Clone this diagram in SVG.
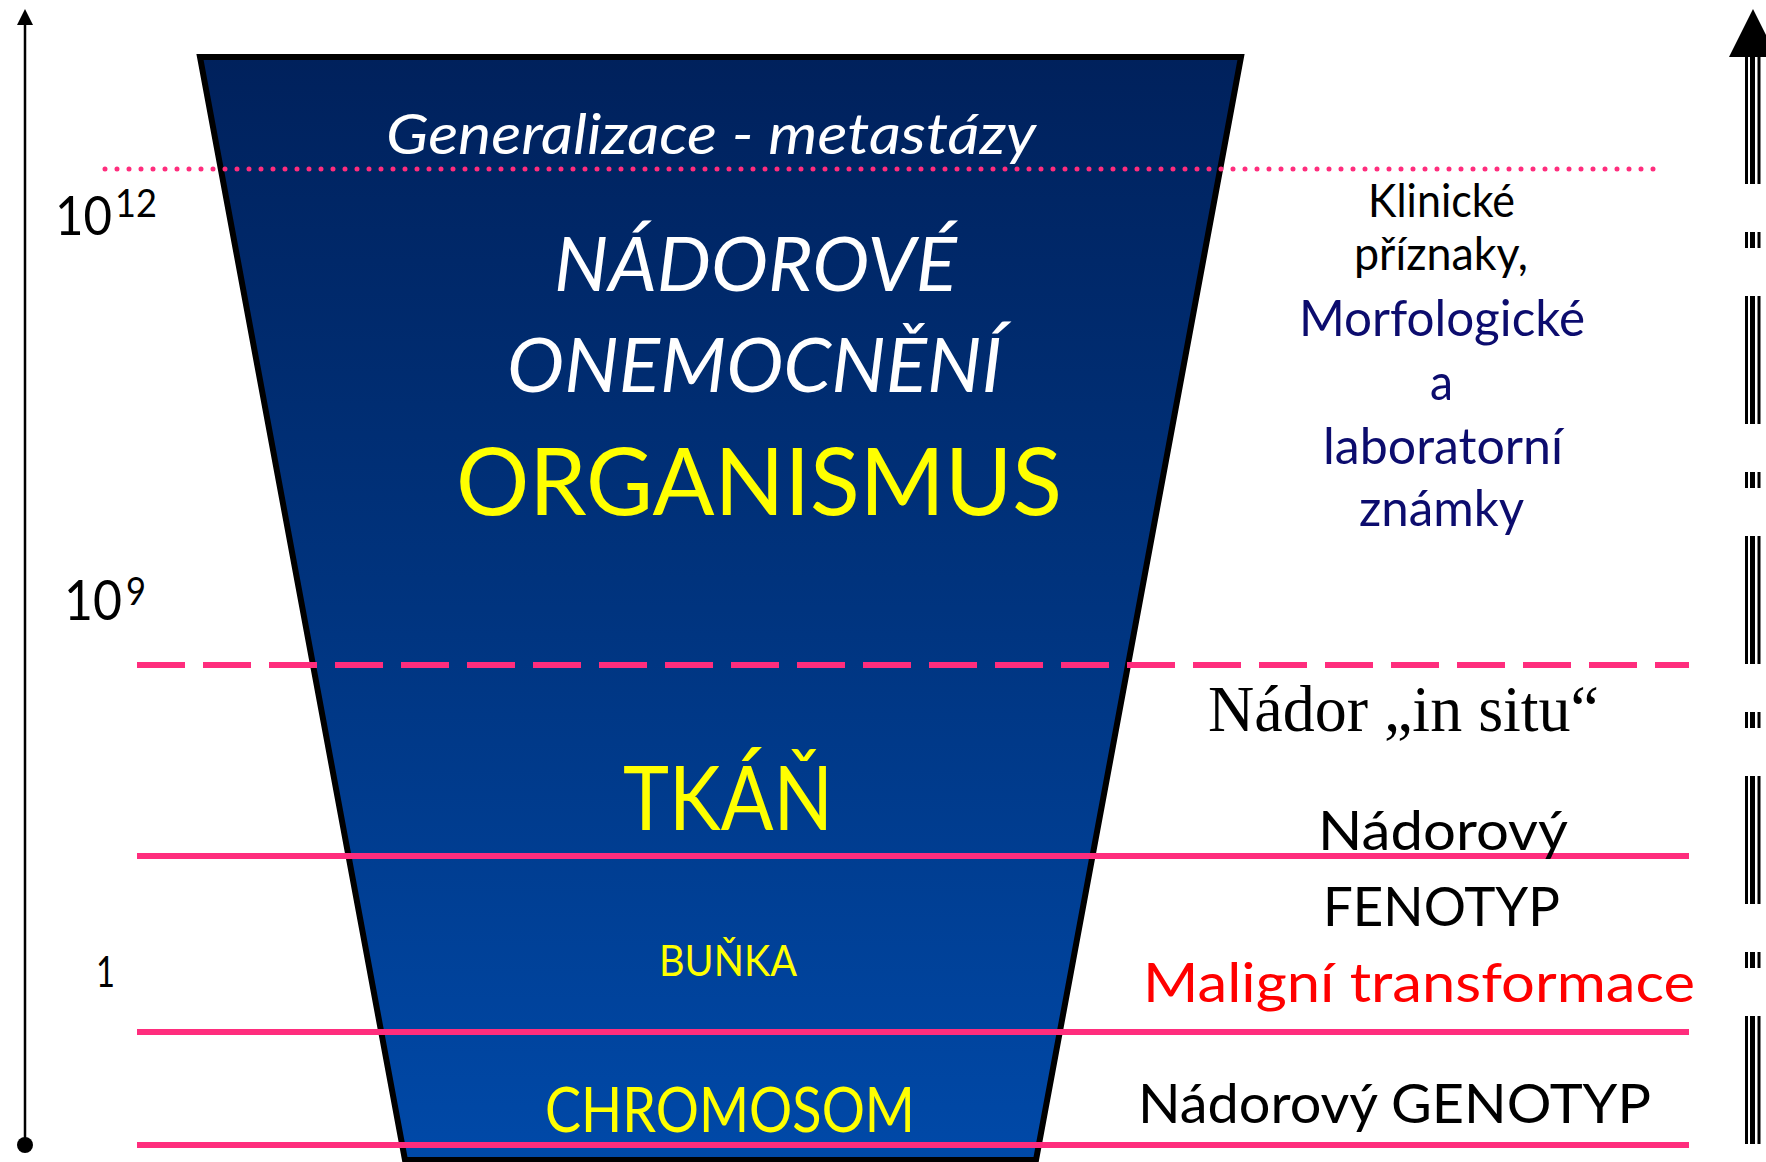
<svg xmlns="http://www.w3.org/2000/svg" width="1766" height="1162" viewBox="0 0 1766 1162">
<defs>
<linearGradient id="fun" x1="0" y1="0" x2="0" y2="1">
<stop offset="0" stop-color="#00215C"/>
<stop offset="0.5" stop-color="#00347F"/>
<stop offset="1" stop-color="#0049A8"/>
</linearGradient>
<style>
.s{font-family:Lato,"Liberation Sans",sans-serif}
.it{font-style:italic}
.w{fill:#ffffff}
.y{fill:#FFFF00}
.k{fill:#000000}
.n{fill:#0c0c6e}
.r{fill:#FF0000}
.pk{stroke:#FF2D7D;fill:none}
.bar{stroke:#000;stroke-dasharray:128 48 16 48}
</style>
</defs>
<rect width="1766" height="1162" fill="#ffffff"/>

<g id="funnel">
<polygon points="200,57 1241,57 1036,1160 405,1160" fill="url(#fun)" stroke="#000" stroke-width="6"/>
</g>

<g id="connectors">
<line class="pk" x1="105" y1="169" x2="1656" y2="169" stroke-width="5" stroke-linecap="round" stroke-dasharray="0 12"/>
<line class="pk" x1="137" y1="665" x2="1689" y2="665" stroke-width="6" stroke-dasharray="48 18"/>
<line class="pk" x1="137" y1="856" x2="1689" y2="856" stroke-width="6"/>
<line class="pk" x1="137" y1="1032" x2="1689" y2="1032" stroke-width="6"/>
<line class="pk" x1="137" y1="1145" x2="1689" y2="1145" stroke-width="6"/>
</g>

<g id="axis-left">
<line x1="25" y1="22" x2="25" y2="1145" stroke="#000" stroke-width="2.5"/>
<polygon points="25,9 17,25 33,25" fill="#000"/>
<circle cx="25" cy="1145" r="8" fill="#000"/>
</g>

<g id="arrow-right">
<polygon points="1753,9 1729,57 1777,57" fill="#000"/>
<line class="bar" x1="1746.5" y1="56" x2="1746.5" y2="1144" stroke-width="3"/>
<line class="bar" x1="1752.5" y1="56" x2="1752.5" y2="1144" stroke-width="5"/>
<line class="bar" x1="1759" y1="56" x2="1759" y2="1144" stroke-width="3"/>
</g>

<g id="scale-labels" class="s k">
<text x="55" y="235" font-size="55" textLength="57" lengthAdjust="spacingAndGlyphs">10</text>
<text x="115" y="217" font-size="39" textLength="42" lengthAdjust="spacingAndGlyphs">12</text>
<text x="64" y="620" font-size="56" textLength="58" lengthAdjust="spacingAndGlyphs">10</text>
<text x="126" y="605" font-size="39" textLength="20" lengthAdjust="spacingAndGlyphs">9</text>
<text x="96" y="987" font-size="42" textLength="19" lengthAdjust="spacingAndGlyphs">1</text>
</g>

<g id="node-generalizace" class="s it w">
<text x="386" y="154" font-size="57" textLength="650" lengthAdjust="spacingAndGlyphs">Generalizace - metastázy</text>
</g>

<g id="node-organismus">
<text class="s it w" x="554" y="291" font-size="75" textLength="403" lengthAdjust="spacingAndGlyphs">NÁDOROVÉ</text>
<text class="s it w" x="507" y="392" font-size="75" textLength="495" lengthAdjust="spacingAndGlyphs">ONEMOCNĚNÍ</text>
<text class="s y" x="456" y="515" font-size="94" textLength="606" lengthAdjust="spacingAndGlyphs">ORGANISMUS</text>
</g>

<g id="node-tkan">
<text class="s y" x="623" y="830" font-size="89" textLength="210" lengthAdjust="spacingAndGlyphs">TKÁŇ</text>
</g>

<g id="node-bunka">
<text class="s y" x="659" y="976" font-size="42" textLength="138" lengthAdjust="spacingAndGlyphs">BUŇKA</text>
</g>

<g id="node-chromosom">
<text class="s y" x="545" y="1132" font-size="61" textLength="370" lengthAdjust="spacingAndGlyphs">CHROMOSOM</text>
</g>

<g id="node-klinicke" class="s">
<text class="k" x="1368" y="217" font-size="46" textLength="147" lengthAdjust="spacingAndGlyphs">Klinické</text>
<text class="k" x="1354" y="270" font-size="46" textLength="174" lengthAdjust="spacingAndGlyphs">příznaky,</text>
<text class="n" x="1299" y="336" font-size="50" textLength="286" lengthAdjust="spacingAndGlyphs">Morfologické</text>
<text class="n" x="1430" y="400" font-size="50" textLength="23" lengthAdjust="spacingAndGlyphs">a</text>
<text class="n" x="1323" y="464" font-size="50" textLength="240" lengthAdjust="spacingAndGlyphs">laboratorní</text>
<text class="n" x="1359" y="526" font-size="50" textLength="165" lengthAdjust="spacingAndGlyphs">známky</text>
</g>

<g id="node-insitu">
<text x="1208" y="731" font-family="'Liberation Serif',serif" font-size="65" fill="#000" textLength="391" lengthAdjust="spacingAndGlyphs">Nádor „in situ“</text>
</g>

<g id="node-fenotyp" class="s k">
<text x="1318" y="850" font-size="54" textLength="250" lengthAdjust="spacingAndGlyphs">Nádorový</text>
<text x="1323" y="926" font-size="55" textLength="237" lengthAdjust="spacingAndGlyphs">FENOTYP</text>
</g>

<g id="node-maligni">
<text class="s r" x="1143" y="1002" font-size="54" textLength="552" lengthAdjust="spacingAndGlyphs">Maligní transformace</text>
</g>

<g id="node-genotyp">
<text class="s k" x="1138" y="1123" font-size="54" textLength="513" lengthAdjust="spacingAndGlyphs">Nádorový GENOTYP</text>
</g>
</svg>
